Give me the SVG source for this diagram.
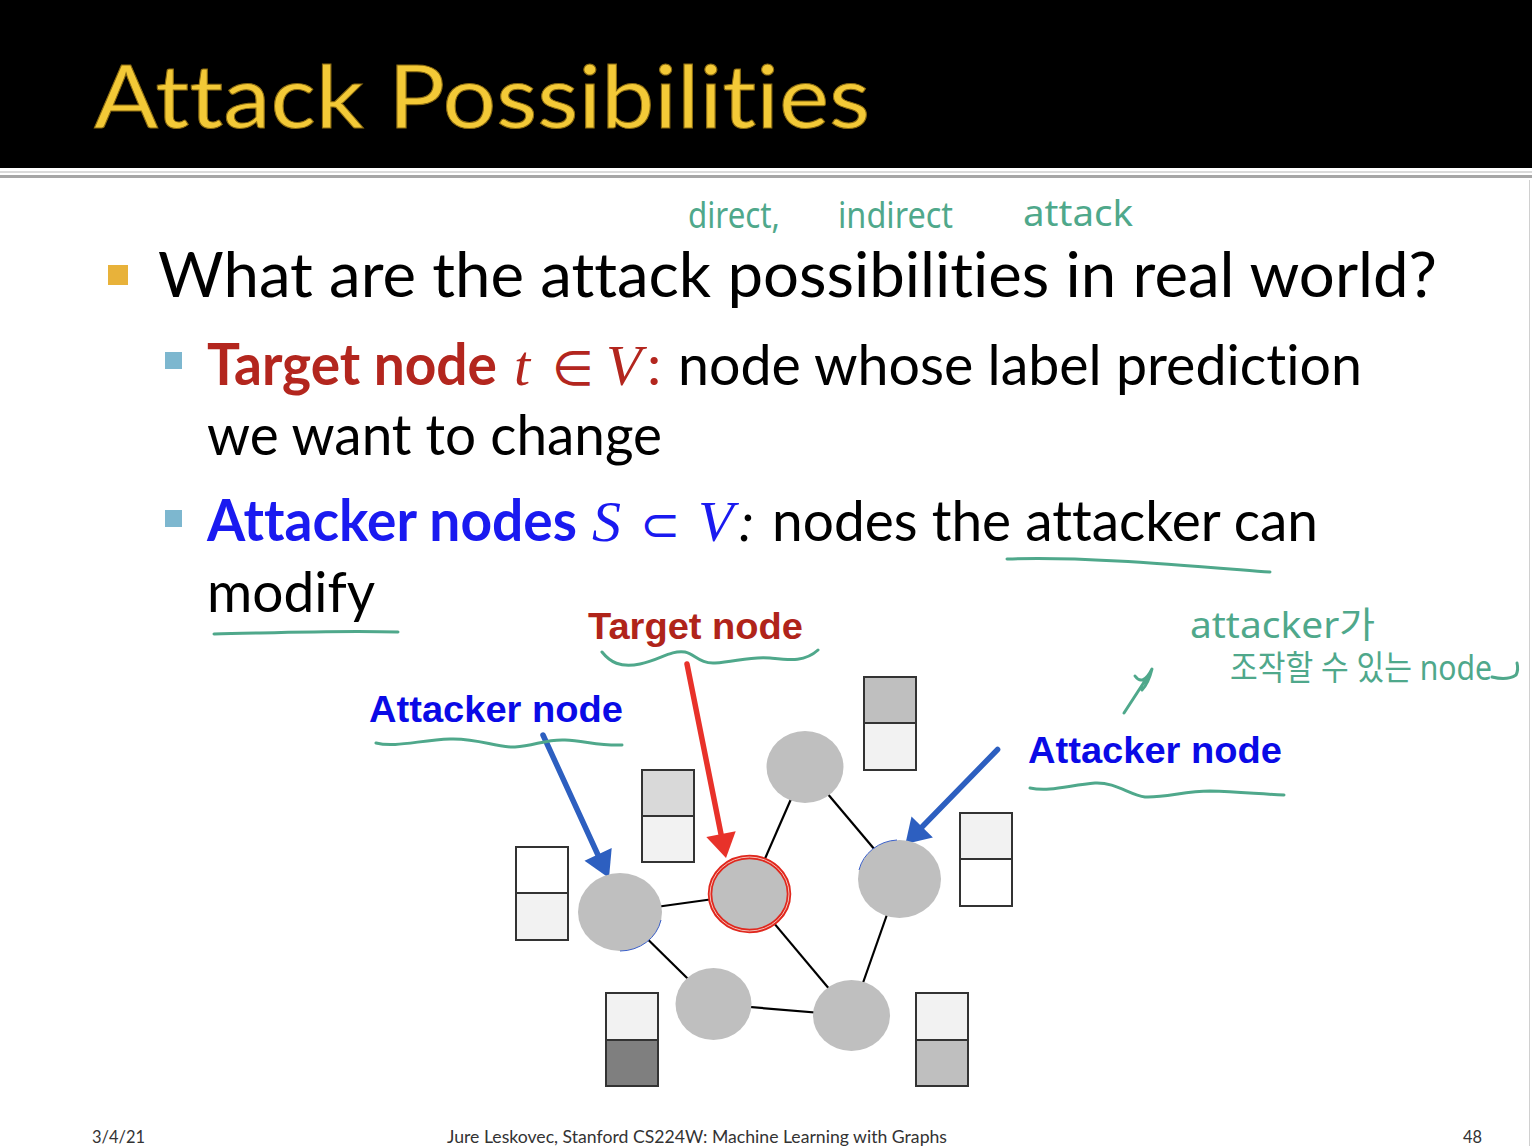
<svg xmlns="http://www.w3.org/2000/svg" width="1532" height="1146" viewBox="0 0 1532 1146">
<style>
text{font-variant-ligatures:none;font-feature-settings:"liga" 0,"clig" 0,"dlig" 0;}
.body{font-family:Lato,"Open Sans","Liberation Sans",sans-serif;fill:#000;}
.math{font-family:"Liberation Serif","DejaVu Serif",serif;font-style:italic;}
.sym{font-family:"DejaVu Sans","Liberation Sans",sans-serif;}
.lbl{font-family:"Liberation Sans",Arial,sans-serif;font-weight:bold;font-size:37px;}
.hand{font-family:"Noto Sans","DejaVu Sans","Noto Sans CJK KR",sans-serif;fill:#4FA88B;}
.ink{fill:none;stroke:#4FA88B;stroke-width:3;stroke-linecap:round;stroke-linejoin:round;}
.edge{stroke:#000;stroke-width:2.2;}
.node{fill:#BFBFBF;}
.box{stroke:#333;stroke-width:2;}
.foot{font-family:Lato,"Liberation Sans",sans-serif;font-size:17px;fill:#333;}
</style>

<!-- header -->
<rect x="0" y="0" width="1532" height="168" fill="#000"/>
<rect x="0" y="171" width="1532" height="2" fill="#DADADA"/>
<rect x="0" y="175" width="1532" height="3" fill="#A6A6A6"/>
<line x1="1529.5" y1="180" x2="1529.5" y2="1146" stroke="#D0D0D0" stroke-width="1"/>
<text x="94" y="128" font-family="Lato,'Open Sans',sans-serif" font-size="88" fill="#F3C937" stroke="#8A6A10" stroke-width="1" textLength="776" lengthAdjust="spacingAndGlyphs">Attack Possibilities</text>

<!-- bullets -->
<rect x="108" y="265" width="20" height="20" fill="#E8B23A"/>
<rect x="165" y="352" width="17" height="17" fill="#7DB7CF"/>
<rect x="165" y="510" width="17" height="17" fill="#7DB7CF"/>

<text class="body" x="158" y="297" font-size="62" textLength="1279" lengthAdjust="spacingAndGlyphs">What are the attack possibilities in real world?</text>

<text class="body" x="207" y="385" font-size="57" font-weight="bold" style="fill:#B3261E" textLength="290" lengthAdjust="spacingAndGlyphs">Target node</text>
<text class="math" x="514" y="385" font-size="58" fill="#B3261E">t</text>
<text class="sym" x="552" y="385" font-size="48" fill="#B3261E">∈</text>
<text class="math" x="606" y="385" font-size="58" fill="#B3261E">V</text>
<text class="body" x="647" y="385" font-size="57" style="fill:#B3261E">:</text>
<text class="body" x="678" y="385" font-size="57" textLength="684" lengthAdjust="spacingAndGlyphs">node whose label prediction</text>
<text class="body" x="207" y="455" font-size="57" textLength="455" lengthAdjust="spacingAndGlyphs">we want to change</text>

<text class="body" x="207" y="541" font-size="57" font-weight="bold" style="fill:#1A1AF0" textLength="370" lengthAdjust="spacingAndGlyphs">Attacker nodes</text>
<text class="math" x="592" y="541" font-size="58" fill="#1A1AF0">S</text>
<text class="sym" x="640" y="541" font-size="48" fill="#1A1AF0">⊂</text>
<text class="math" x="698" y="541" font-size="58" fill="#1A1AF0">V</text>
<text class="math" x="737" y="541" font-size="56" fill="#000">:</text>
<text class="body" x="772" y="541" font-size="57" textLength="546" lengthAdjust="spacingAndGlyphs">nodes the attacker can</text>
<text class="body" x="207" y="612" font-size="57" textLength="168" lengthAdjust="spacingAndGlyphs">modify</text>

<!-- graph labels -->
<text class="lbl" x="588" y="639" fill="#B0241A" textLength="215" lengthAdjust="spacingAndGlyphs">Target node</text>
<text class="lbl" x="369" y="722" fill="#0A0AE6" textLength="254" lengthAdjust="spacingAndGlyphs">Attacker node</text>
<text class="lbl" x="1028" y="763" fill="#0A0AE6" textLength="254" lengthAdjust="spacingAndGlyphs">Attacker node</text>

<!-- connectors -->
<g id="connectors">
  <line class="edge" x1="620" y1="912" x2="749.5" y2="894"/>
  <line class="edge" x1="620" y1="912" x2="713.5" y2="1004"/>
  <line class="edge" x1="749.5" y1="894" x2="805" y2="767"/>
  <line class="edge" x1="749.5" y1="894" x2="851.5" y2="1015.5"/>
  <line class="edge" x1="805" y1="767" x2="899.5" y2="879"/>
  <line class="edge" x1="899.5" y1="879" x2="851.5" y2="1015.5"/>
  <line class="edge" x1="713.5" y1="1004" x2="851.5" y2="1015.5"/>
  <!-- pointer arrows -->
  <line x1="543" y1="735" x2="598" y2="855" stroke="#2D5FC0" stroke-width="5.5" stroke-linecap="round"/>
  <polygon points="609,878 584.5,860.7 611.7,848.1" fill="#2D5FC0"/>
  <line x1="687" y1="664" x2="721" y2="834" stroke="#E8322A" stroke-width="5.5" stroke-linecap="round"/>
  <polygon points="726,858 706.3,837 735.7,831.2" fill="#E8322A"/>
  <line x1="997.6" y1="749.5" x2="922" y2="827" stroke="#2D5FC0" stroke-width="5.5" stroke-linecap="round"/>
  <polygon points="905.4,844.1 932.9,837.4 911.5,816.4" fill="#2D5FC0"/>
</g>

<!-- nodes -->
<g id="node-top"><ellipse class="node" cx="805" cy="767" rx="38.5" ry="36"/></g>
<g id="node-target">
  <ellipse class="node" cx="749.5" cy="894" rx="39.5" ry="37"/>
  <ellipse cx="749.5" cy="894" rx="39.5" ry="37" fill="none" stroke="#E0281E" stroke-width="4.5"/>
  <ellipse cx="749.5" cy="894" rx="39.5" ry="37" fill="none" stroke="#F4C0B8" stroke-width="1"/>
</g>
<g id="node-attacker-left">
  <ellipse class="node" cx="620" cy="912" rx="42" ry="39"/>
  <path d="M661,920 A42,39 0 0 1 620,951" fill="none" stroke="#3A5FC8" stroke-width="1"/>
</g>
<g id="node-attacker-right">
  <ellipse class="node" cx="899.5" cy="879" rx="41.5" ry="39"/>
  <path d="M859,870 A41.5,39 0 0 1 897,840" fill="none" stroke="#3A5FC8" stroke-width="1"/>
</g>
<g id="node-bottom-left"><ellipse class="node" cx="713.5" cy="1004" rx="38" ry="36"/></g>
<g id="node-bottom-right"><ellipse class="node" cx="851.5" cy="1015.5" rx="38.5" ry="35.5"/></g>

<!-- label boxes -->
<g id="box-left">
  <rect class="box" x="516" y="847" width="52" height="46" fill="#FFFFFF"/>
  <rect class="box" x="516" y="893" width="52" height="47" fill="#F2F2F2"/>
</g>
<g id="box-mid">
  <rect class="box" x="642" y="770" width="52" height="46" fill="#D9D9D9"/>
  <rect class="box" x="642" y="816" width="52" height="46" fill="#F2F2F2"/>
</g>
<g id="box-top">
  <rect class="box" x="864" y="677" width="52" height="46" fill="#BFBFBF"/>
  <rect class="box" x="864" y="723" width="52" height="47" fill="#F2F2F2"/>
</g>
<g id="box-right">
  <rect class="box" x="960" y="813" width="52" height="46" fill="#F2F2F2"/>
  <rect class="box" x="960" y="859" width="52" height="47" fill="#FFFFFF"/>
</g>
<g id="box-bottom-left">
  <rect class="box" x="606" y="993" width="52" height="47" fill="#F2F2F2"/>
  <rect class="box" x="606" y="1040" width="52" height="46" fill="#7F7F7F"/>
</g>
<g id="box-bottom-right">
  <rect class="box" x="916" y="993" width="52" height="47" fill="#F2F2F2"/>
  <rect class="box" x="916" y="1040" width="52" height="46" fill="#BFBFBF"/>
</g>

<!-- handwritten annotations -->
<g id="annotations">
  <text class="hand" x="688" y="228" font-size="36" textLength="92" lengthAdjust="spacingAndGlyphs">direct,</text>
  <text class="hand" x="838" y="228" font-size="36" textLength="115" lengthAdjust="spacingAndGlyphs">indirect</text>
  <text class="hand" x="1023" y="226" font-size="36" textLength="110" lengthAdjust="spacingAndGlyphs">attack</text>
  <text class="hand" x="1190" y="638" font-size="36" textLength="185" lengthAdjust="spacingAndGlyphs">attacker가</text>
  <text class="hand" x="1230" y="680" font-size="34" textLength="262" lengthAdjust="spacingAndGlyphs">조작할 수 있는 node</text>
  <path class="ink" d="M1492,677 C1500,679 1510,679 1516,675 C1518,671 1518,667 1517,663"/>
  <path class="ink" d="M1007,559 C1080,556 1180,565 1270,572"/>
  <path class="ink" d="M214,634 C270,633 340,630 398,632"/>
  <path class="ink" d="M602,652 C610,662 620,668 640,664 C660,660 670,650 685,652 C695,654 700,664 715,663 C735,662 750,656 770,658 C790,660 805,662 818,650"/>
  <path class="ink" d="M376,743 C395,748 420,740 450,739 C480,738 495,748 515,747 C535,746 545,739 565,740 C585,741 600,746 622,745"/>
  <path class="ink" d="M1030,788 C1050,792 1070,785 1095,783 C1115,782 1130,795 1145,797 C1165,798 1185,791 1210,791 C1240,792 1260,794 1284,795"/>
  <path class="ink" d="M1124,713 L1150,673 M1135,676 C1140,683 1146,681 1152,669 C1150,677 1148,684 1142,690"/>
</g>

<!-- footer -->
<text class="foot" x="92" y="1143" textLength="53" lengthAdjust="spacingAndGlyphs">3/4/21</text>
<text class="foot" x="447" y="1143" textLength="500" lengthAdjust="spacingAndGlyphs">Jure Leskovec, Stanford CS224W: Machine Learning with Graphs</text>
<text class="foot" x="1463" y="1143" textLength="19" lengthAdjust="spacingAndGlyphs">48</text>
</svg>
